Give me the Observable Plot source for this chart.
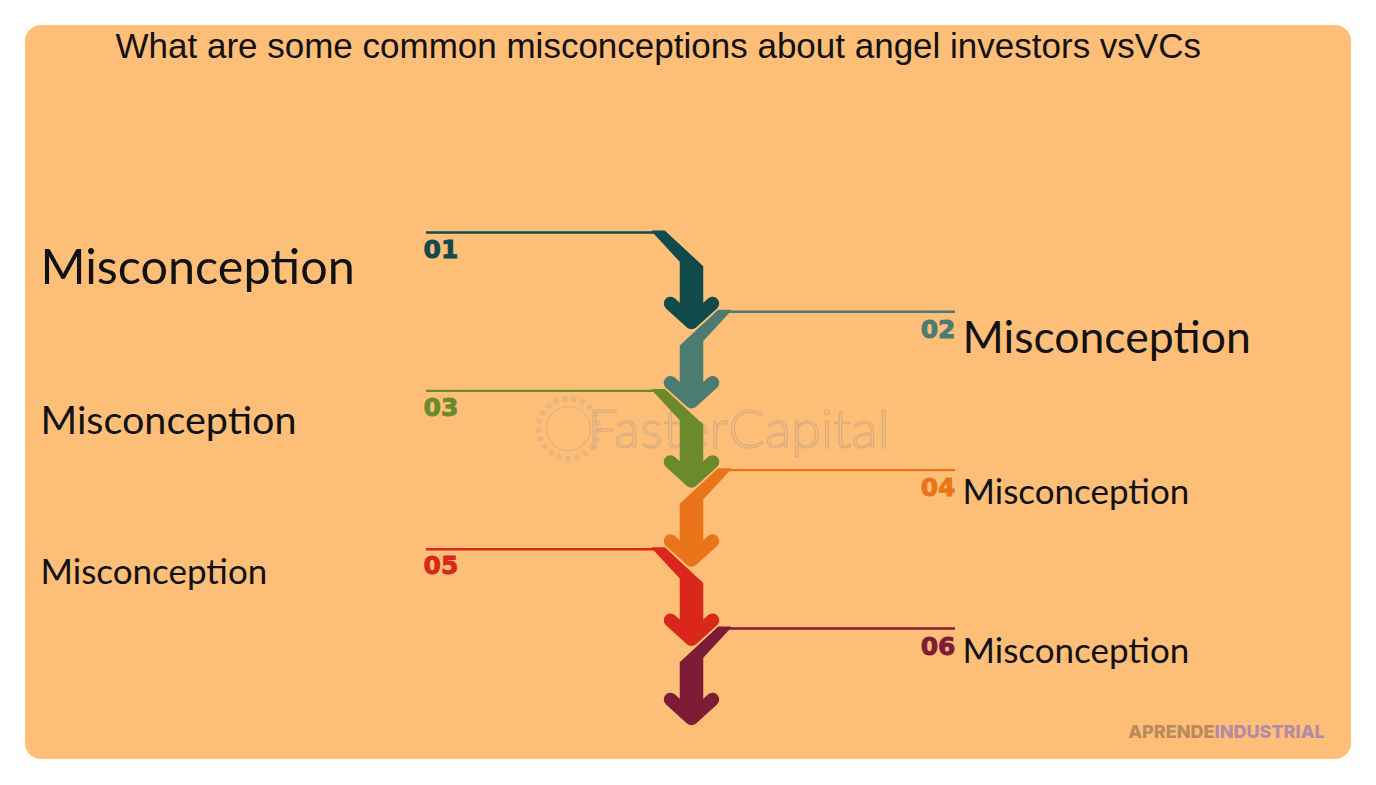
<!DOCTYPE html>
<html>
<head>
<meta charset="utf-8">
<script src="https://cdn.jsdelivr.net/npm/d3@7"></script>
<script src="https://cdn.jsdelivr.net/npm/@observablehq/plot@0.6"></script>
<style>
  html, body { margin: 0; padding: 0; background: #ffffff; }
  #chart svg { display: block; }
</style>
</head>
<body>
<div id="chart"></div>
<script>
// ---------- data ----------
const title = "What are some common misconceptions about angel investors vsVCs";
const steps = ["01", "02", "03", "04", "05", "06"];
const sides = ["left", "right", "left", "right", "left", "right"];
const labels = ["Misconception", "Misconception", "Misconception", "Misconception", "Misconception", "Misconception"];
const stepColors = ["#114a4a", "#4b7b71", "#6a8a2b", "#ea7419", "#d9281b", "#7e1b37"];
const watermark = "FasterCapital";
const brand = ["APRENDE", "INDUSTRIAL"];
const brandColors = ["#b88a5c", "#b48ba2"];

// ---------- layout / style (not data) ----------
const W = 1376, H = 785;
const L = {
  panel: {x1: 25, x2: 1351, y1: 25, y2: 759, r: 16, fill: "#fdbe78"},
  firstLine: 232, pitch: 79.2,
  cx: 691, half: 11,
  leftLineX: [426, 656], rightLineX: [727, 955],
  leftLabelX: 40, rightLabelX: 962,
  labelSize: [48.5, 44.5, 39.5, 35, 35, 35],
  labelDy: [51, 41, 43, 34, 35, 34]
};

const rows = steps.map((s, i) => ({
  step: s, side: sides[i], label: labels[i], i,
  y0: L.firstLine + i * L.pitch
}));

// arrow body polygons (diagonal + shaft), derived from step index
const bodyPts = rows.flatMap(d => {
  const {cx, half} = L, y0 = d.y0;
  const m = d.side === "left" ? 1 : -1; // mirror for right side
  const a = cx - m * 39, b = cx - m * 27; // top of diagonal on the line
  const pts = [
    [a, y0 - 1.2], [b, y0 - 1.2],
    [cx + m * half, y0 + 34], [cx + m * half, y0 + 76],
    [cx, y0 + 88],
    [cx - m * half, y0 + 76], [cx - m * half, y0 + 29],
    [a, y0 - 1.2]
  ];
  return pts.map(([x, y]) => ({step: d.step, x, y}));
});

// arrowhead chevrons
const headPts = rows.flatMap(d => {
  const {cx} = L, y0 = d.y0;
  return [[cx - 21, y0 + 71], [cx, y0 + 90], [cx + 21, y0 + 71]]
    .map(([x, y]) => ({step: d.step, x, y}));
});

const left = rows.filter(d => d.side === "left");
const right = rows.filter(d => d.side === "right");

const numberStyle = {
  fill: "step", stroke: "step", strokeWidth: 0.9, lineAnchor: "bottom",
  fontSize: 25, fontWeight: "bold", fontFamily: "DejaVu Sans, sans-serif"
};

const chart = Plot.plot({
  width: W, height: H,
  margin: 0,
  x: {type: "identity", axis: null},
  y: {type: "identity", axis: null},
  color: {domain: steps, range: stepColors},
  style: {background: "#ffffff", overflow: "visible"},
  marks: [
    // panel
    Plot.rect([L.panel], {x1: "x1", x2: "x2", y1: "y1", y2: "y2", rx: L.panel.r, fill: L.panel.fill}),
    // title
    Plot.text([title], {
      x: 115, y: 57, text: d => d, textAnchor: "start", lineAnchor: "bottom",
      fontSize: 35, fontFamily: "Liberation Sans, Arial, sans-serif", fill: "#111111"
    }),
    // watermark
    Plot.dot([0], {x: 568, y: 428, r: 30, fill: "none", stroke: "#dcae84", strokeWidth: 6, strokeDasharray: "5 4", strokeOpacity: 0.6}),
    Plot.dot([0], {x: 568, y: 428, r: 22, fill: "none", stroke: "#d9ab82", strokeWidth: 1.2, strokeOpacity: 0.8}),
    Plot.text([watermark], {
      x: 738, y: 447, text: d => d, textAnchor: "middle", lineAnchor: "bottom",
      fontSize: 54, fontFamily: "Lato, sans-serif", fontWeight: 300,
      fill: "none", stroke: "#d6a981", strokeWidth: 1.1
    }),
    // thin lines
    Plot.ruleY(rows, {
      y: "y0",
      x1: d => d.side === "left" ? L.leftLineX[0] : L.rightLineX[0],
      x2: d => d.side === "left" ? L.leftLineX[1] : L.rightLineX[1],
      stroke: "step", strokeWidth: 2.4
    }),
    // arrow bodies
    Plot.line(bodyPts, {x: "x", y: "y", z: "step", fill: "step", stroke: "step", strokeWidth: 1.5, strokeLinejoin: "round", curve: "linear"}),
    // arrow heads
    Plot.line(headPts, {x: "x", y: "y", z: "step", stroke: "step", strokeWidth: 13.5, strokeLinecap: "round", strokeLinejoin: "round"}),
    // step numbers
    Plot.text(left, {...numberStyle, x: 423, y: d => d.y0 + 25, text: "step", textAnchor: "start"}),
    Plot.text(right, {...numberStyle, x: 955, y: d => d.y0 + 26, text: "step", textAnchor: "end"}),
    // labels
    Plot.text(rows, {
      x: d => d.side === "left" ? L.leftLabelX : L.rightLabelX,
      y: d => d.y0 + L.labelDy[d.i],
      text: "label",
      fontSize: d => L.labelSize[d.i],
      textAnchor: "start", lineAnchor: "bottom",
      fontFamily: "Lato, sans-serif", fill: "#111111"
    }),
    // brand
    Plot.text([brand[0]], {
      x: 1214, y: 737, text: d => d, textAnchor: "end", lineAnchor: "bottom",
      fontSize: 18, fontWeight: 800, fontFamily: "Inter, sans-serif", fill: brandColors[0]
    }),
    Plot.text([brand[1]], {
      x: 1214, y: 737, text: d => d, textAnchor: "start", lineAnchor: "bottom",
      fontSize: 18, fontWeight: 800, fontFamily: "Inter, sans-serif", fill: brandColors[1]
    })
  ]
});
document.getElementById("chart").append(chart);
</script>
</body>
</html>
